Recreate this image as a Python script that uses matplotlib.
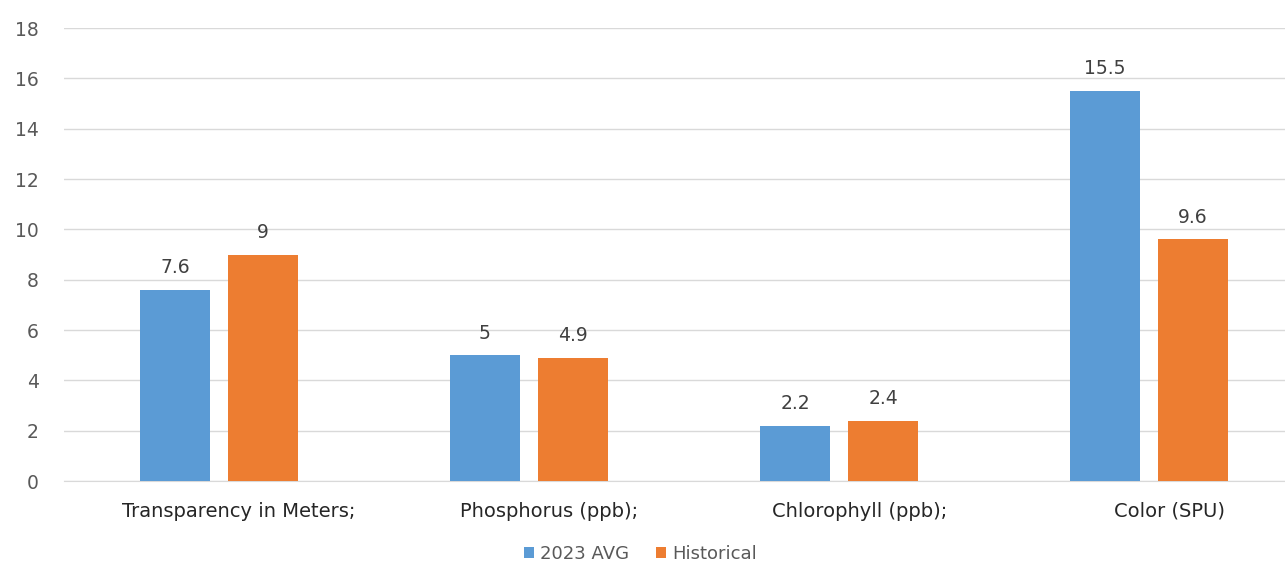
import numpy as np
import matplotlib.pyplot as plt

categories = ['Transparency in Meters;', 'Phosphorus (ppb);', 'Chlorophyll (ppb);', 'Color (SPU)']
avg_2023 = [7.6, 5, 2.2, 15.5]
historical = [9, 4.9, 2.4, 9.6]
yticks = [0, 2, 4, 6, 8, 10, 12, 14, 16, 18]

BLUE = '#5B9BD5'
ORANGE = '#ED7D31'
TEXT = '#595959'

plt.rcParams['font.family'] = ['DejaVu Sans']

fig = plt.figure(figsize=(12.85, 5.72), dpi=100)
# plot area runs past the right edge, like the cropped original
ax = fig.add_axes([0.0498, 0.159, 0.965, 0.792])

x = np.arange(len(categories))
w = 0.226
off = 0.142
b1 = ax.bar(x - off, avg_2023, w, color=BLUE, label='2023 AVG', zorder=3)
b2 = ax.bar(x + off, historical, w, color=ORANGE, label='Historical', zorder=3)

for bars, vals in [(b1, avg_2023), (b2, historical)]:
    for rect, v in zip(bars, vals):
        ax.annotate(f'{v:g}', (rect.get_x() + rect.get_width() / 2, v),
                    xytext=(0, 9), textcoords='offset points',
                    ha='center', va='bottom', fontsize=13.5, color='#404040')

ax.set_xlim(-0.5, len(categories) - 0.5)
ax.set_ylim(0, 18)
ax.set_yticks(yticks)
# category labels sit a little right of the bar groups in the original
ax.set_xticks(x + 0.065)
ax.set_xticklabels(categories, fontsize=14, color='#262626')
ax.tick_params(axis='x', length=0, pad=15)
ax.tick_params(axis='y', length=0, pad=18, labelsize=13.5, labelcolor=TEXT)

ax.grid(axis='y', color='#D9D9D9', linewidth=1, zorder=0)
ax.xaxis.grid(False)
for s in ['top', 'right', 'left']:
    ax.spines[s].set_visible(False)
ax.spines['bottom'].set_color('#D9D9D9')

ax.legend(loc='upper center', bbox_to_anchor=(0.465, -0.106), ncol=2, frameon=False,
          fontsize=13, handlelength=0.55, handleheight=0.55, handletextpad=0.35,
          columnspacing=1.5, labelcolor=TEXT)

fig.savefig('out.png', dpi=100)
